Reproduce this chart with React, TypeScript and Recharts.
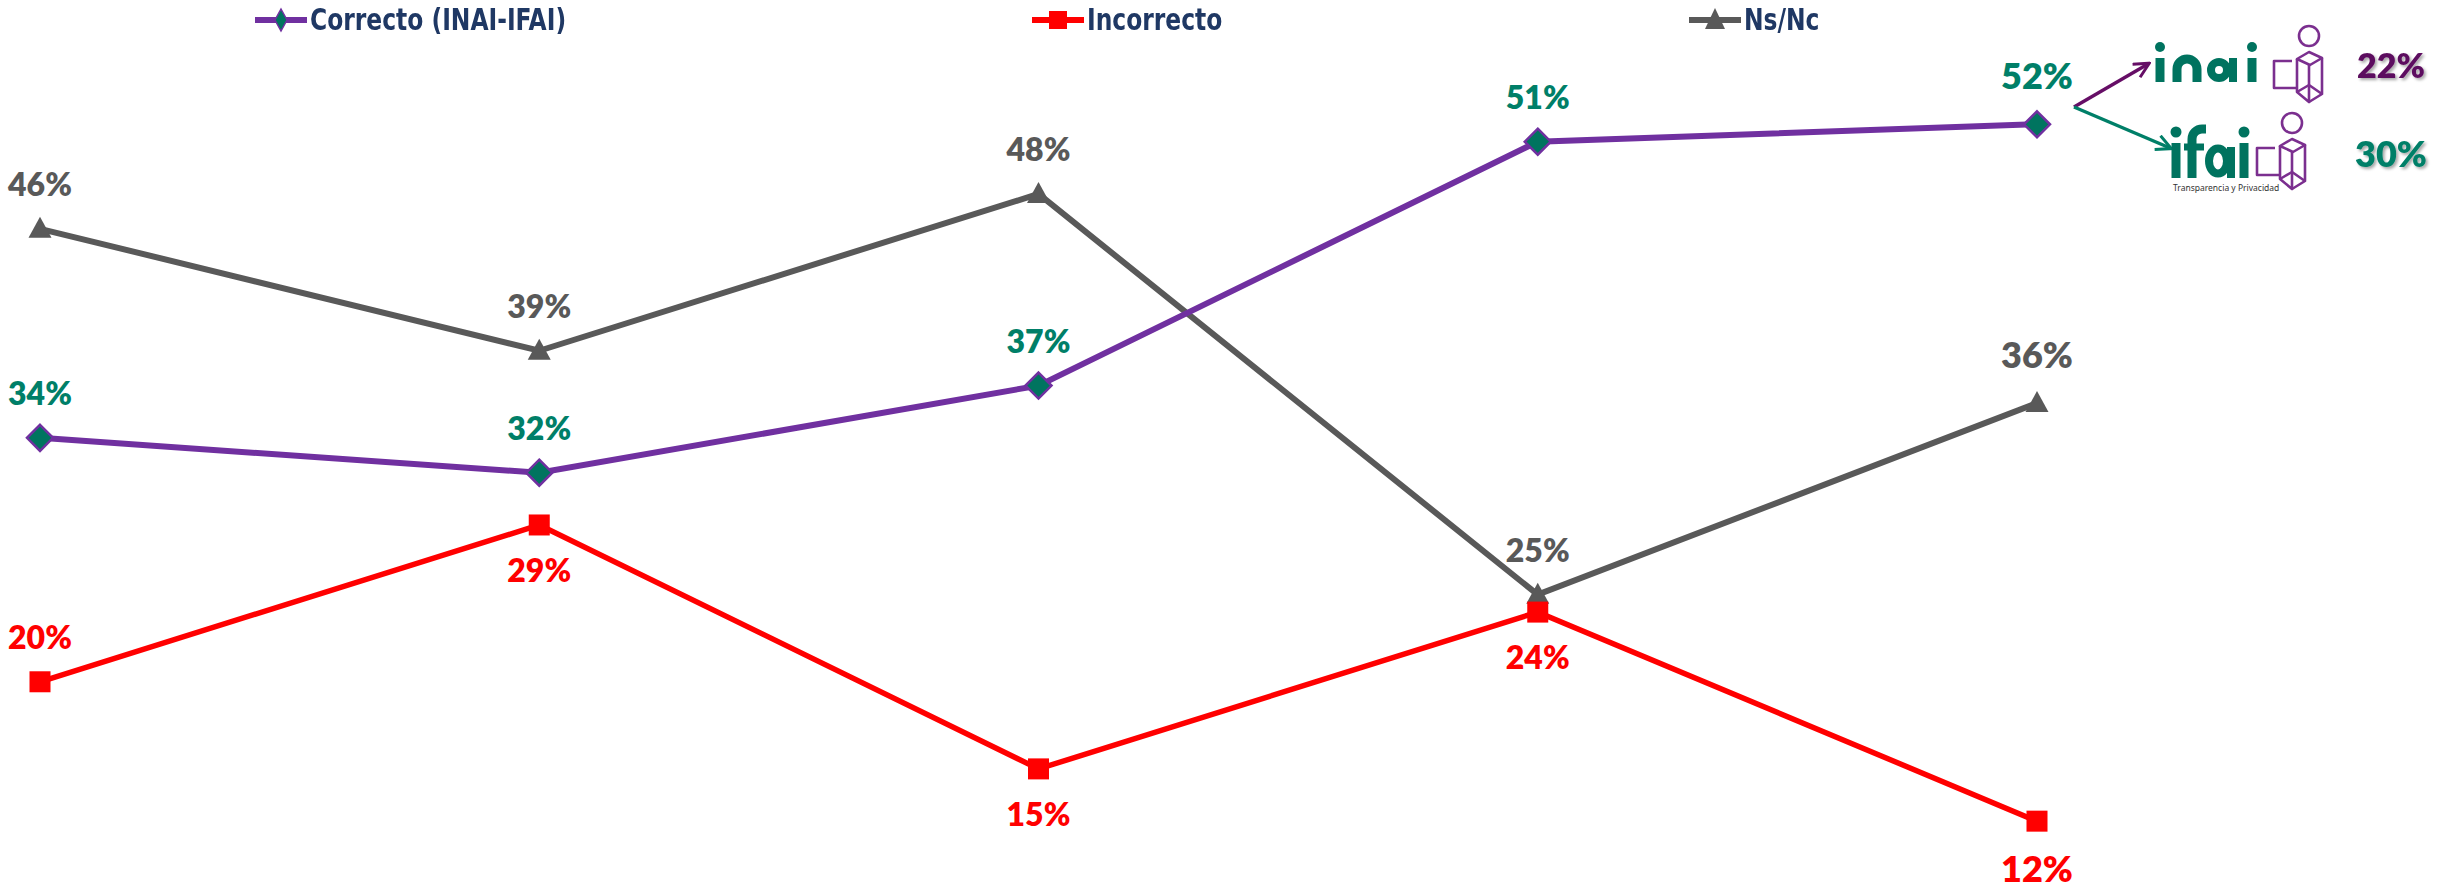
import React from "react";
import { LabelList, Line, LineChart, XAxis, YAxis } from "recharts";

const waves = ["Medición 1", "Medición 2", "Medición 3", "Medición 4", "Medición 5"];
const correcto = [34, 32, 37, 51, 52];
const incorrecto = [20, 29, 15, 24, 12];
const nsnc = [46, 39, 48, 25, 36];
const inaiShare = "22%";
const ifaiShare = "30%";

const PURPLE = "#7030A0";
const GREEN = "#007F68";
const LOGO_GREEN = "#00735F";
const RED = "#FF0000";
const GREY = "#595959";
const NAVY = "#1F3864";
const ICON = "#7B2F8F";

const data = waves.map((wave, i) => ({
  wave,
  correcto: correcto[i],
  incorrecto: incorrecto[i],
  nsnc: nsnc[i],
}));

const Diamond = (props: any) => {
  const { cx, cy } = props;
  if (cx == null || cy == null) return null;
  return (
    <polygon
      points={`${cx},${cy - 13} ${cx + 13},${cy} ${cx},${cy + 13} ${cx - 13},${cy}`}
      fill="#00745F"
      stroke={PURPLE}
      strokeWidth={2.5}
    />
  );
};

const Square = (props: any) => {
  const { cx, cy } = props;
  if (cx == null || cy == null) return null;
  return <rect x={cx - 10.5} y={cy - 10.5} width={21} height={21} fill={RED} />;
};

const Triangle = (props: any) => {
  const { cx, cy } = props;
  if (cx == null || cy == null) return null;
  return <polygon points={`${cx},${cy - 12} ${cx + 11.5},${cy + 9} ${cx - 11.5},${cy + 9}`} fill={GREY} />;
};

// labels: above the point unless listed in "below"
const makeLabel = (color: string, below: number[]) => (props: any) => {
  const { x, y, value, index } = props;
  const last = index === waves.length - 1;
  const size = last ? 36 : 32;
  const isBelow = below.includes(index);
  const ty = isBelow ? y + (last ? 61 : 57) : y - (last ? 35 : 33);
  return (
    <text
      x={x}
      y={ty}
      textAnchor="middle"
      fill={color}
      fontFamily="Lato, 'Open Sans', sans-serif"
      fontWeight={800}
      fontSize={size}
    >
      {`${value}%`}
    </text>
  );
};

const legendItems = [
  { name: "Correcto (INAI-IFAI)", color: PURPLE, left: 255, marker: "diamond" },
  { name: "Incorrecto", color: RED, left: 1032, marker: "square" },
  { name: "Ns/Nc", color: GREY, left: 1689, marker: "triangle" },
];

function LegendMarker({ kind, color }: { kind: string; color: string }) {
  return (
    <svg width={52} height={30} style={{ display: "block" }}>
      <line x1={0} y1={15} x2={52} y2={15} stroke={color} strokeWidth={6} />
      {kind === "diamond" && (
        <polygon points="26,4 32,15 26,26 20,15" fill="#00745F" stroke={PURPLE} strokeWidth={1.5} />
      )}
      {kind === "square" && <rect x={17} y={6} width={18} height={18} fill={RED} />}
      {kind === "triangle" && <polygon points="26,3 36,24 16,24" fill={GREY} />}
    </svg>
  );
}

function Logos() {
  const head = (cx: number, cy: number) => <circle cx={cx} cy={cy} r={10} fill="none" stroke={ICON} strokeWidth={2.6} />;
  const box = (
    <g fill="none" stroke={ICON} strokeWidth={2.6} strokeLinejoin="round">
      <path d="M2292 61 H2274 V88 H2297" />
      <path d="M2297 59 L2309 52 L2322 58 L2310 65 Z" />
      <path d="M2297 59 V92 L2309 102 V65" />
      <path d="M2322 58 V94 L2309 102" />
      <path d="M2297 92 L2309 85 L2322 94" />
    </g>
  );
  return (
    <svg width={2438} height={893} style={{ position: "absolute", left: 0, top: 0, pointerEvents: "none" }}>
      <defs>
        <marker id="arrP" viewBox="0 0 12 12" refX={10} refY={6} markerWidth={18} markerHeight={18} orient="auto" markerUnits="userSpaceOnUse">
          <path d="M1 1 L11 6 L1 11" fill="none" stroke="#660E66" strokeWidth={2} />
        </marker>
        <marker id="arrG" viewBox="0 0 12 12" refX={10} refY={6} markerWidth={18} markerHeight={18} orient="auto" markerUnits="userSpaceOnUse">
          <path d="M1 1 L11 6 L1 11" fill="none" stroke={GREEN} strokeWidth={2} />
        </marker>
        <filter id="shadow" x="-20%" y="-20%" width="140%" height="140%">
          <feDropShadow dx={2} dy={2} stdDeviation={1.5} floodColor="#000" floodOpacity={0.35} />
        </filter>
      </defs>
      <line x1={2074} y1={107} x2={2148} y2={64} stroke="#660E66" strokeWidth={3.5} markerEnd="url(#arrP)" />
      <line x1={2074} y1={107} x2={2170} y2={148} stroke={GREEN} strokeWidth={3.5} markerEnd="url(#arrG)" />

      {/* inai */}
      <g stroke={LOGO_GREEN} strokeWidth={9} fill="none">
        <line x1={2160} y1={58} x2={2160} y2={82} />
        <path d="M2177 82 V69 a10 10 0 0 1 20 0 V82" />
        <circle cx={2219} cy={70} r={8} strokeWidth={8} />
        <line x1={2233} y1={58} x2={2233} y2={82} strokeWidth={8} />
        <line x1={2252} y1={58} x2={2252} y2={82} />
      </g>
      <circle cx={2160} cy={47} r={5} fill={LOGO_GREEN} />
      <circle cx={2252} cy={47} r={5} fill={LOGO_GREEN} />
      {head(2309, 36)}
      {box}

      {/* ifai */}
      <g stroke={LOGO_GREEN} strokeWidth={9} fill="none">
        <line x1={2176} y1={143} x2={2176} y2={178} />
        <path d="M2192 178 V139 a10 10 0 0 1 10 -10 h4" />
        <line x1={2184} y1={147} x2={2204} y2={147} strokeWidth={7} />
        <ellipse cx={2218} cy={161} rx={9} ry={12.5} strokeWidth={8} />
        <line x1={2231} y1={147} x2={2231} y2={178} strokeWidth={8} />
        <line x1={2244} y1={143} x2={2244} y2={178} />
      </g>
      <circle cx={2176} cy={132} r={5.5} fill={LOGO_GREEN} />
      <circle cx={2244} cy={132} r={5.5} fill={LOGO_GREEN} />
      <text x={2173} y={191} fontFamily="'Noto Sans', sans-serif" fontSize={8.5} fill="#333">
        Transparencia y Privacidad
      </text>
      {head(2292, 123)}
      <g transform="translate(-17 87)">{box}</g>

      <text x={2391} y={78} textAnchor="middle" fontFamily="Lato, sans-serif" fontWeight={800} fontSize={34} fill="#5C0A5E" filter="url(#shadow)">
        {inaiShare}
      </text>
      <text x={2391} y={167} textAnchor="middle" fontFamily="Lato, sans-serif" fontWeight={800} fontSize={36} fill={GREEN} filter="url(#shadow)">
        {ifaiShare}
      </text>
    </svg>
  );
}

export default function App() {
  return (
    <div style={{ position: "absolute", left: 0, top: 0, width: 2438, height: 893, background: "#fff" }}>
      <LineChart width={2438} height={893} data={data} margin={{ top: 72, right: 401, bottom: 37, left: 40 }}>
        <XAxis dataKey="wave" hide />
        <YAxis hide domain={[10, 55]} />
        <Line
          type="linear"
          dataKey="nsnc"
          name="Ns/Nc"
          stroke={GREY}
          strokeWidth={6}
          dot={<Triangle />}
          activeDot={false}
          isAnimationActive={false}
        >
          <LabelList dataKey="nsnc" content={makeLabel(GREY, [])} />
        </Line>
        <Line
          type="linear"
          dataKey="correcto"
          name="Correcto (INAI-IFAI)"
          stroke={PURPLE}
          strokeWidth={6}
          dot={<Diamond />}
          activeDot={false}
          isAnimationActive={false}
        >
          <LabelList dataKey="correcto" content={makeLabel(GREEN, [])} />
        </Line>
        <Line
          type="linear"
          dataKey="incorrecto"
          name="Incorrecto"
          stroke={RED}
          strokeWidth={5.5}
          dot={<Square />}
          activeDot={false}
          isAnimationActive={false}
        >
          <LabelList dataKey="incorrecto" content={makeLabel(RED, [1, 2, 3, 4])} />
        </Line>
      </LineChart>

      {legendItems.map((item) => (
        <div
          key={item.name}
          style={{ position: "absolute", left: item.left, top: 5, display: "flex", alignItems: "center" }}
        >
          <LegendMarker kind={item.marker} color={item.color} />
          <span
            style={{
              display: "inline-block",
              marginLeft: 3,
              color: NAVY,
              fontFamily: "'DejaVu Sans Condensed', sans-serif",
              fontStretch: "condensed",
              fontWeight: 700,
              fontSize: 26,
              lineHeight: "30px",
              transform: "scaleY(1.15)",
            }}
          >
            {item.name}
          </span>
        </div>
      ))}

      <Logos />
    </div>
  );
}
